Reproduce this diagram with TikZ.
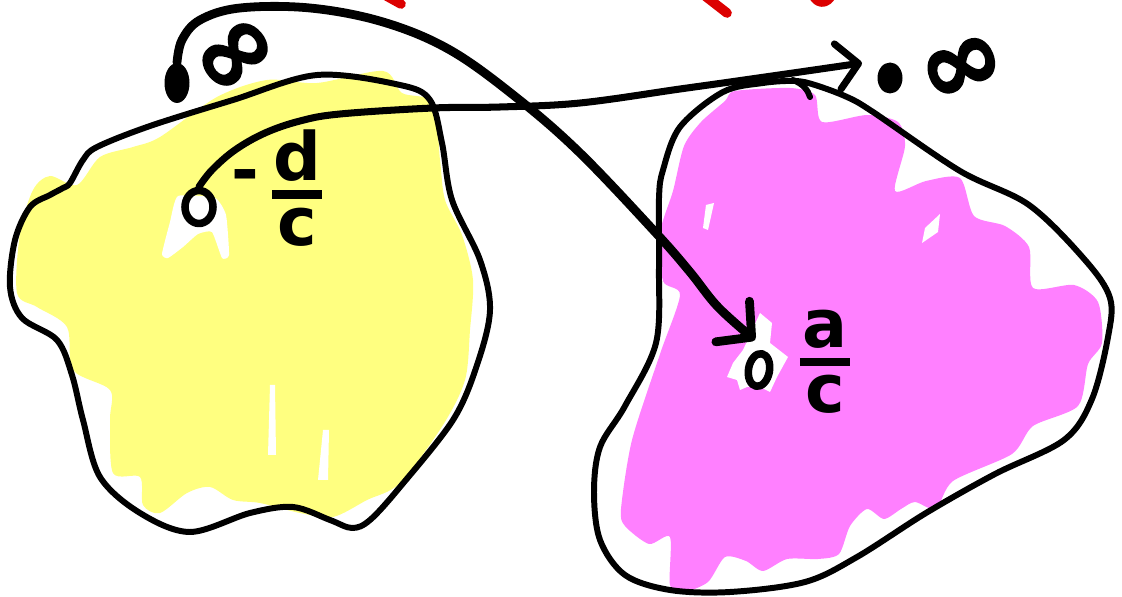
\documentclass[tikz,border=0pt]{standalone}
\usepackage{fontspec}
\usepackage{amsmath}
\newfontfamily\hand{DejaVu Sans}
\newfontfamily\infont{DejaVu Sans}[BoldFeatures={FakeBold=2}]
\usetikzlibrary{arrows.meta,shapes.geometric}
\definecolor{hiyellow}{RGB}{255,255,128}
\definecolor{himagenta}{RGB}{255,128,255}
\definecolor{penred}{RGB}{220,0,0}
\begin{document}
\begin{tikzpicture}[x=0.02cm,y=-0.02cm,line cap=round,line join=round,
  outline/.style={line width=3.4pt},
  penA/.style={line width=5pt,-{Straight Barb[length=14pt,width=30pt,round]}},
  penB/.style={line width=4pt,-{Straight Barb[length=12pt,width=26pt,round]}},
  redpen/.style={line width=5.5pt,penred},
  dotpt/.style={ellipse,fill=black,inner sep=0pt},
  openpt/.style={ellipse,draw,line width=4.3pt,inner sep=0pt},
  lbl/.style={font=\hand\bfseries\fontsize{38}{40}\selectfont,inner sep=0pt},
  inflbl/.style={font=\infont\bfseries\fontsize{58}{58}\selectfont,inner sep=0pt}]
\useasboundingbox (0,0) rectangle (1122,597);
% ---- yellow region fill
\fill[hiyellow] plot[smooth cycle,tension=0.5] coordinates {
 (50,176) (77,185) (100,157) (133,147) (160,137) (217,97) (267,80) (317,83)
 (383,71) (402,93) (433,103) (440,160) (445,200) (462,235) (473,280) (470,330)
 (465,380) (443,425) (400,483) (367,500) (333,517) (300,513) (260,503) (233,500)
 (210,487) (187,493) (160,513) (143,505) (140,477) (113,473) (110,420) (110,390)
 (73,370) (67,327) (37,307) (17,293) (20,233) (33,190)};
\fill[white] plot[smooth cycle,tension=0.3] coordinates {
 (178,196) (215,198) (226,215) (229,255) (222,258) (212,232) (198,234) (183,247)
 (168,258) (162,254) (170,222)};
\fill[white] (270,385) -- (275,385) -- (276,455) -- (268,455) -- cycle;
\fill[white] (323,430) -- (329,430) -- (328,480) -- (318,480) -- cycle;
% ---- magenta region fill
\fill[himagenta] plot[smooth cycle,tension=0.45] coordinates {
 (725,101) (735,91) (790,88) (815,95) (822,122) (867,115) (898,122) (905,146)
 (895,191) (926,181) (960,178) (974,216) (1005,226) (1029,247) (1033,288)
 (1074,285) (1098,302) (1102,343) (1088,364) (1078,406) (1033,426) (1012,454)
 (953,481) (936,509) (915,502) (901,509) (884,519) (867,509) (850,526)
 (839,554) (818,559) (787,559) (763,571) (746,561) (725,557) (708,582)
 (684,592) (670,585) (670,537) (649,544) (625,526) (621,509) (632,440)
 (660,354) (680,295) (663,281) (660,233) (673,191) (684,146) (701,122)};
\fill[white] (760,313) -- (772,323) -- (770,343) -- (788,357) -- (777,377)
 -- (770,392) -- (760,387) -- (747,387) -- (740,390) -- (737,380) -- (727,377)
 -- (733,363) -- (743,350) -- cycle;
\fill[white] (706,205) -- (714,203) -- (708,230) -- (703,228) -- cycle;
\fill[white] (925,228) -- (940,214) -- (938,232) -- (922,243) -- cycle;
% ---- outlines
\draw[outline] plot[smooth cycle,tension=0.55] coordinates {
 (30,207) (50,195) (63,188) (70,183) (83,160) (97,147) (150,126) (233,100)
 (317,75) (400,85) (430,100) (442,143) (452,200) (480,260) (490,310) (477,365)
 (453,420) (400,487) (370,520) (352,528) (330,520) (293,507) (250,513)
 (190,532) (140,513) (100,477) (83,420) (72,375) (57,340) (22,318) (10,287)
 (15,240)};
\draw[outline] plot[smooth cycle,tension=0.55] coordinates {
 (663,170) (680,127) (723,92) (763,83) (795,81) (815,85) (847,97) (873,112)
 (960,171) (1029,205) (1085,260) (1110,298) (1108,337) (1092,399) (1064,440)
 (995,474) (926,513) (857,557) (805,582) (730,592) (670,590) (625,575)
 (600,540) (594,492) (600,447) (625,406) (656,343) (659,267) (659,198)};
\draw[outline] (793,80) .. controls (803,84) and (808,90) .. (810,97);
% ---- red pen marks (cut by the top edge)
\begin{scope}
\clip (0,0) rectangle (1122,597);
\draw[redpen] (383,-6) -- (401,4);
\draw[redpen] (700,-8) -- (727,13);
\draw[redpen] (811,-12) .. controls (814,6) and (828,6) .. (833,-8);
\end{scope}
% ---- points and labels
\node[dotpt,minimum width=0.5cm,minimum height=0.8cm] (dotL) at (177,83) {};
\node[dotpt,minimum width=0.5cm,minimum height=0.62cm] (dotR) at (890,78) {};
\node[openpt,minimum width=0.56cm,minimum height=0.66cm] (oL) at (199,207) {};
\node[openpt,minimum width=0.42cm,minimum height=0.66cm,rotate=-10] (oR) at (759,370) {};
\node[inflbl,rotate=40] (infL) at (238,58) {∞};
\node[inflbl,rotate=22] (infR) at (963,70) {∞};
\node[lbl] (fracL) at (276,188)
 {\raisebox{7pt}{\kern2pt-}\,$\genfrac{}{}{5pt}{1}{\hbox{d}}{\hbox{\kern3pt c\kern3pt}}$};
\node[lbl] (fracR) at (825,362)
 {$\genfrac{}{}{5pt}{1}{\hbox{a}}{\hbox{\kern3pt c\kern3pt}}$};
\coordinate (tipA) at (755,340);
\coordinate (tipB) at (862,63);
% ---- arrows
\draw[penA] plot[smooth,tension=0.6] coordinates {
 (dotL.north) (182,40) (200,20) (240,8) (310,8) (383,22) (450,50) (517,98)
 (580,153) (656,233) (690,272) (718,307) (tipA)};
\draw[penB] plot[smooth,tension=0.6] coordinates {
 (oL.north) (212,170) (235,150) (265,133) (300,121) (340,114) (433,108)
 (500,107) (580,103) (680,89) (730,82) (793,73) (tipB)};
\end{tikzpicture}
\end{document}
